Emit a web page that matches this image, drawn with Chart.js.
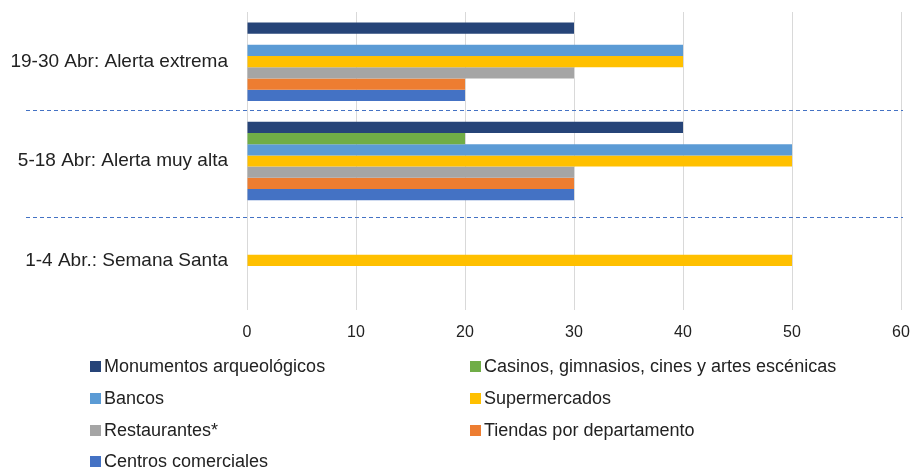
<!DOCTYPE html>
<html>
<head>
<meta charset="utf-8">
<script src="https://cdn.jsdelivr.net/npm/chart.js@4/dist/chart.umd.min.js"></script>
<style>
    body { margin: 0; background: #fff; }
    #wrap { position: relative; width: 914px; height: 468px; }
    #legend {
        position: absolute; left: 90px; top: 351px;
        display: grid; grid-template-columns: 380px 420px;
        row-gap: 0; font-family: 'Liberation Sans', Arial, sans-serif;
        font-size: 18px; color: #222;
    }
    .item { height: 31.7px; display: flex; align-items: center; white-space: nowrap; }
    .box { width: 11px; height: 11px; margin-right: 3px; display: inline-block; }
</style>
</head>
<body>
<div id="wrap">
    <canvas id="chart" width="914" height="468"></canvas>
    <div id="legend"></div>
</div>
<script>
// Categories, top to bottom
const categories = ['19-30 Abr: Alerta extrema', '5-18 Abr: Alerta muy alta', '1-4 Abr.: Semana Santa'];

// Series values per category
const monumentos = [30, 40, null];
const casinos = [null, 20, null];
const bancos = [40, 50, null];
const supermercados = [40, 50, 50];
const restaurantes = [30, 30, null];
const tiendas = [20, 30, null];
const centros = [20, 30, null];

const seriesNames = ['Monumentos arqueológicos', 'Casinos, gimnasios, cines y artes escénicas', 'Bancos',
    'Supermercados', 'Restaurantes*', 'Tiendas por departamento', 'Centros comerciales'];
const seriesColors = ['#264478', '#70AD47', '#5B9BD5', '#FFC000', '#A5A5A5', '#ED7D31', '#4472C4'];
const seriesData = [monumentos, casinos, bancos, supermercados, restaurantes, tiendas, centros];

// x axis ticks
const xTicks = [0, 10, 20, 30, 40, 50, 60];

// dashed separators, in category units
const separators = [0.486, 1.56];

const fontFamily = "'Liberation Sans', Arial, sans-serif";

const separatorPlugin = {
    id: 'separators',
    afterDraw(chart) {
        const ctx = chart.ctx;
        const yScale = chart.scales.y;
        ctx.save();
        ctx.strokeStyle = '#4472C4';
        ctx.lineWidth = 1;
        ctx.setLineDash([4, 3]);
        separators.forEach(v => {
            const y = Math.round(yScale.getPixelForValue(v)) + 0.5;
            ctx.beginPath();
            ctx.moveTo(26, y);
            ctx.lineTo(chart.chartArea.right + 2, y);
            ctx.stroke();
        });
        ctx.restore();
    }
};

const datasets = seriesNames.map((name, i) => ({
    label: name,
    data: seriesData[i],
    backgroundColor: seriesColors[i],
    borderWidth: 0,
    categoryPercentage: 0.79,
    barPercentage: 1.0,
}));

new Chart(document.getElementById('chart').getContext('2d'), {
    type: 'bar',
    data: { labels: categories, datasets: datasets },
    options: {
        indexAxis: 'y',
        responsive: false,
        animation: false,
        layout: { padding: { top: 12, right: 13, bottom: 128, left: 0 } },
        plugins: { legend: { display: false }, tooltip: { enabled: false } },
        scales: {
            x: {
                min: 0, max: 60,
                afterBuildTicks: scale => { scale.ticks = xTicks.map(v => ({ value: v })); },
                afterFit: scale => {
                    scale.height = 30;
                    scale.paddingLeft = 0;
                    scale.paddingRight = 0;
                },
                grid: { color: '#d9d9d9', drawTicks: false },
                border: { display: false },
                ticks: { color: '#222', padding: 13, font: { family: fontFamily, size: 16 } }
            },
            y: {
                afterFit: scale => {
                    scale.width = 247;
                    scale.paddingTop = 0;
                    scale.paddingBottom = 0;
                },
                grid: { display: false, drawTicks: false },
                border: { display: false },
                ticks: { color: '#222', padding: 19, font: { family: fontFamily, size: 19 } }
            }
        }
    },
    plugins: [separatorPlugin]
});

// two-column legend, rows read left to right
const legend = document.getElementById('legend');
seriesNames.forEach((name, i) => {
    const item = document.createElement('div');
    item.className = 'item';
    item.innerHTML = '<span class="box" style="background:' + seriesColors[i] + '"></span>' + name;
    legend.appendChild(item);
});
</script>
</body>
</html>
